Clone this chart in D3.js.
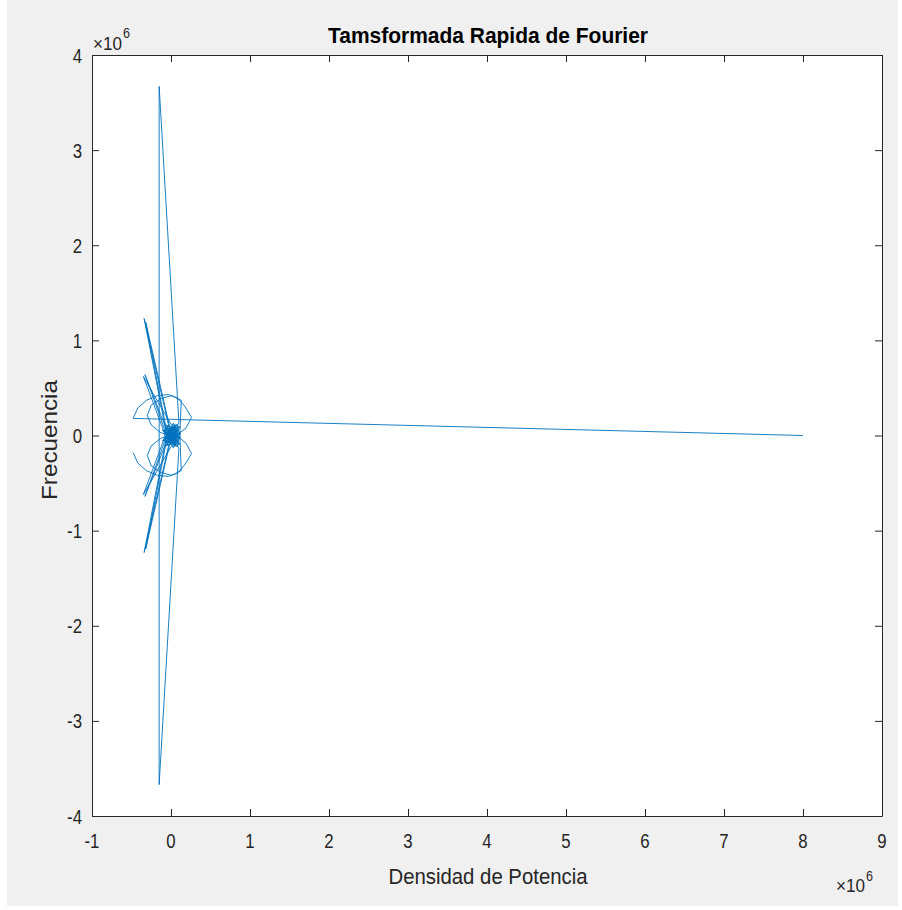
<!DOCTYPE html>
<html>
<head>
<meta charset="utf-8">
<script src="https://cdn.jsdelivr.net/npm/d3@7"></script>
<style>
  html, body { margin: 0; padding: 0; background: #ffffff; }
  svg { display: block; }
</style>
</head>
<body>
<script>
// ---- DATA (values in units of 1e6) ----
const chartTitle = "Tamsformada Rapida de Fourier";
const xLabel = "Densidad de Potencia";
const yLabel = "Frecuencia";
const xTicks = [-1, 0, 1, 2, 3, 4, 5, 6, 7, 8, 9];
const yTicks = [-4, -3, -2, -1, 0, 1, 2, 3, 4];
const xTickLabels = ["-1", "0", "1", "2", "3", "4", "5", "6", "7", "8", "9"];
const yTickLabels = ["-4", "-3", "-2", "-1", "0", "1", "2", "3", "4"];

const dcRe = [8.0];
const dcIm = [0.0];
const upperRe = [-0.48,-0.42,-0.31,-0.17,-0.03,0.09,0.18,0.26,0.19,0.10,-0.01,-0.13,-0.25,-0.30,-0.25,-0.12,0.01,0.13,0.11,0.05,-0.06,-0.34,-0.02,0.07,-0.04,-0.33,-0.05,0.04,-0.08,-0.35,0.02,0.08,-0.03,-0.32,0.00,0.06,-0.07,0.10,0.03,-0.09,0.05,-0.02,0.12,0.01,-0.05,0.07,-0.10,0.09,0.00,
  0.04,-0.06,0.11,-0.03,0.08,-0.11,0.02,0.06,-0.04,0.12,-0.08,0.03,0.09,-0.01,0.05,-0.07,0.10,0.00,
  0.10,-0.15];
const upperIm = [0.18,0.29,0.37,0.42,0.43,0.39,0.30,0.19,0.08,0.02,0.00,0.03,0.11,0.21,0.32,0.39,0.42,0.37,-0.04,0.06,0.03,1.23,0.07,0.01,-0.03,0.64,0.05,-0.02,0.02,0.62,0.09,0.05,-0.06,1.19,0.03,-0.05,0.08,0.06,-0.08,-0.01,0.10,0.01,0.02,-0.04,0.10,0.08,0.05,-0.02,0.06,
  -0.09,0.11,0.03,-0.02,0.12,-0.06,0.04,-0.11,0.07,0.09,-0.04,0.13,-0.07,0.05,-0.12,0.02,0.10,-0.05,
  0.14,3.67];
const lowerRe = [-0.15,0.10,
  0.00,0.10,-0.07,0.05,-0.01,0.09,0.03,-0.08,0.12,-0.04,0.06,0.02,-0.11,0.08,-0.03,0.11,-0.06,0.04,
  0.00,0.09,-0.10,0.07,-0.05,0.01,0.12,-0.02,0.05,-0.09,0.03,0.10,-0.07,0.06,0.00,-0.32,-0.03,0.08,0.02,-0.35,-0.08,0.04,-0.05,-0.33,-0.04,0.07,-0.02,-0.34,-0.06,0.05,0.11,0.13,0.01,-0.12,-0.25,-0.30,-0.25,-0.13,-0.01,0.10,0.19,0.26,0.18,0.09,-0.03,-0.17,-0.31,-0.42,-0.48];
const lowerIm = [-3.67,-0.14,
  0.05,-0.10,-0.02,0.12,-0.05,0.07,-0.13,0.04,-0.09,-0.07,0.11,-0.04,0.06,-0.12,0.02,-0.03,-0.11,0.09,
  -0.06,0.02,-0.05,-0.08,-0.10,0.04,-0.02,-0.01,-0.10,0.01,0.08,-0.06,-0.08,0.05,-0.03,-1.19,0.06,-0.05,-0.09,-0.62,-0.02,0.02,-0.05,-0.64,0.03,-0.01,-0.07,-1.23,-0.03,-0.06,0.04,-0.37,-0.42,-0.39,-0.32,-0.21,-0.11,-0.03,0.00,-0.02,-0.08,-0.19,-0.30,-0.39,-0.43,-0.42,-0.37,-0.29,-0.18];

// ---- LAYOUT ----
const W = 902, H = 910;
const plot = { left: 92, right: 882, top: 55, bottom: 816 };
const lineColor = "#0072BD";
const axisColor = "#262626";
const font = "'Liberation Sans', Arial, Helvetica, sans-serif";
const squeeze = 0.8;

const svg = d3.select("body").append("svg").attr("width", W).attr("height", H);

svg.append("rect").attr("x", 7).attr("y", 0).attr("width", W - 11).attr("height", H - 4).attr("fill", "#f0f0f0");
svg.append("rect").attr("x", plot.left).attr("y", plot.top)
  .attr("width", plot.right - plot.left).attr("height", plot.bottom - plot.top).attr("fill", "#ffffff");

const x = d3.scaleLinear().domain([-1, 9]).range([plot.left, plot.right]);
const y = d3.scaleLinear().domain([-4, 4]).range([plot.bottom, plot.top]);

const re = dcRe.concat(upperRe, lowerRe);
const im = dcIm.concat(upperIm, lowerIm);
const pts = re.map((r, i) => [r, im[i]]);

const clipId = "clipPlot";
svg.append("clipPath").attr("id", clipId).append("rect")
  .attr("x", plot.left).attr("y", plot.top)
  .attr("width", plot.right - plot.left).attr("height", plot.bottom - plot.top);

svg.append("path")
  .datum(pts)
  .attr("clip-path", `url(#${clipId})`)
  .attr("fill", "none")
  .attr("stroke", lineColor)
  .attr("stroke-width", 0.9)
  .attr("stroke-linejoin", "round")
  .attr("d", d3.line().x(d => x(d[0])).y(d => y(d[1])));

// ---- AXES ----
function styleAxis(g) {
  g.select(".domain").attr("stroke", axisColor).attr("stroke-width", 1);
  g.selectAll(".tick line").attr("stroke", axisColor).attr("stroke-width", 1);
  g.selectAll(".tick text").remove();
}
const tk = 7;
svg.append("g").attr("transform", `translate(0,${plot.bottom})`)
  .call(d3.axisBottom(x).tickValues(xTicks).tickSize(-tk).tickSizeOuter(0)).call(styleAxis);
svg.append("g").attr("transform", `translate(0,${plot.top})`)
  .call(d3.axisTop(x).tickValues(xTicks).tickSize(-tk).tickSizeOuter(0)).call(styleAxis);
svg.append("g").attr("transform", `translate(${plot.left},0)`)
  .call(d3.axisLeft(y).tickValues(yTicks).tickSize(-tk).tickSizeOuter(0)).call(styleAxis);
svg.append("g").attr("transform", `translate(${plot.right},0)`)
  .call(d3.axisRight(y).tickValues(yTicks).tickSize(-tk).tickSizeOuter(0)).call(styleAxis);

function sText(px, py, str, size, anchor, sx) {
  return svg.append("text")
    .attr("transform", `translate(${px},${py}) scale(${sx || squeeze},1)`)
    .attr("text-anchor", anchor || "middle")
    .attr("font-family", font)
    .attr("font-size", size)
    .attr("fill", axisColor)
    .text(str);
}

// x tick labels
xTicks.forEach((v, i) => sText(x(v), 848, xTickLabels[i], 21, "middle"));
// y tick labels
yTicks.forEach((v, i) => sText(82, y(v) + 7.5, yTickLabels[i], 21, "end"));

// exponent labels
sText(93, 50, "\u00d710", 19, "start", 0.9);
sText(123, 38, "6", 14, "start", 0.9);
sText(836, 892, "\u00d710", 19, "start", 0.9);
sText(866, 881, "6", 14, "start", 0.9);

// title
svg.append("text")
  .attr("x", 488).attr("y", 43)
  .attr("text-anchor", "middle")
  .attr("font-family", font).attr("font-size", 22).attr("font-weight", "bold")
  .attr("fill", "#000000")
  .attr("textLength", 320).attr("lengthAdjust", "spacingAndGlyphs")
  .text(chartTitle);

// x label
svg.append("text")
  .attr("x", 488).attr("y", 884)
  .attr("text-anchor", "middle")
  .attr("font-family", font).attr("font-size", 22)
  .attr("fill", axisColor)
  .attr("textLength", 199).attr("lengthAdjust", "spacingAndGlyphs")
  .text(xLabel);

// y label
svg.append("text")
  .attr("transform", `translate(57,440) rotate(-90)`)
  .attr("text-anchor", "middle")
  .attr("font-family", font).attr("font-size", 22)
  .attr("fill", axisColor)
  .attr("textLength", 120).attr("lengthAdjust", "spacingAndGlyphs")
  .text(yLabel);
</script>
</body>
</html>
